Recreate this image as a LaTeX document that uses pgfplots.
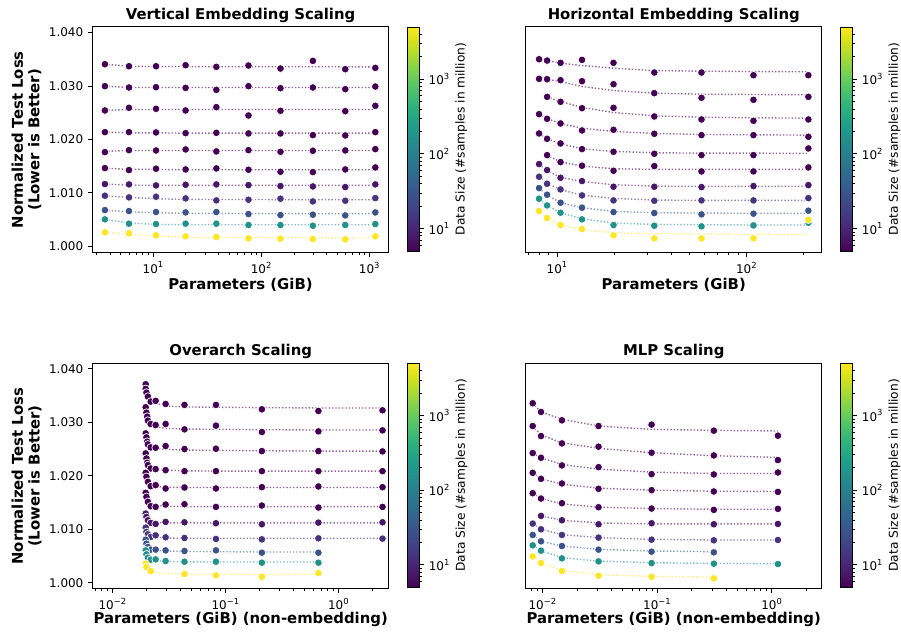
\documentclass[border=0pt]{standalone}
\usepackage{pgfplots}
\usepackage{pgfplotstable}
\usepackage{fontspec}
\setmainfont{DejaVu Sans}
\pgfplotsset{compat=1.18}

\definecolor{v0}{HTML}{440154}
\definecolor{v1}{HTML}{481769}
\definecolor{v2}{HTML}{46327E}
\definecolor{v3}{HTML}{3B528B}
\definecolor{v4}{HTML}{21918C}
\definecolor{v5}{HTML}{FDE725}
\colorlet{col1}{v0}\colorlet{col2}{v0}\colorlet{col3}{v0}\colorlet{col4}{v0}
\colorlet{col5}{v0}\colorlet{col6}{v0}\colorlet{col7}{v1}\colorlet{col8}{v2}
\colorlet{col9}{v3}\colorlet{col10}{v4}\colorlet{col11}{v5}

\newcommand{\tfont}{\fontsize{8.6}{10}\selectfont}
\newcommand{\lfont}{\bfseries\fontsize{10.7}{12}\selectfont}
\newcommand{\pw}[1]{10\textsuperscript{#1}}

% vertical embedding scaling
\pgfplotstableread{
x     r1      r2      r3      r4      r5      r6      r7      r8      r9      r10     r11
3.57  1.03409 1.02998 1.02543 1.02138 1.01764 1.01465 1.01166 1.00948 1.00680 1.00506 1.00263
5.96  1.03371 1.02973 1.02593 1.02138 1.01801 1.01428 1.01160 1.00917 1.00661 1.00425 1.00244
10.6  1.03371 1.02979 1.02574 1.02132 1.01795 1.01453 1.01141 1.00929 1.00643 1.00418 1.00207
19.9  1.03390 1.02966 1.02543 1.02119 1.01814 1.01440 1.01153 1.00898 1.00636 1.00425 1.00188
38.3  1.03359 1.02929 1.02605 1.02125 1.01777 1.01459 1.01160 1.00861 1.00643 1.00425 1.00175
75.9  1.03384 1.02998 1.02449 1.02113 1.01801 1.01434 1.01147 1.00873 1.00605 1.00400 1.00150
150   1.03328 1.02960 1.02537 1.02113 1.01770 1.01396 1.01129 1.00892 1.00587 1.00400 1.00144
299   1.03471 1.02973 nan     1.02082 1.01789 1.01390 1.01122 1.00842 1.00593 1.00387 1.00138
596   1.03315 1.02942 1.02530 1.02076 1.01795 1.01440 1.01110 1.00854 1.00580 1.00400 1.00132
1130  1.03340 1.02991 1.02630 1.02138 1.01820 1.01477 1.01160 1.00904 1.00636 1.00418 1.00188
}\vertPts
\pgfplotstableread{
x     r1      r2      r3      r4      r5      r6      r7      r8      r9      r10     r11
3.57  1.03409 1.02998 1.02543 1.02138 1.01777 1.01465 1.01166 1.00948 1.00680 1.00506 1.00263
5.96  1.03371 1.02973 1.02562 1.02125 1.01795 1.01440 1.01147 1.00917 1.00649 1.00437 1.00232
10.6  1.03365 1.02973 1.02562 1.02125 1.01795 1.01440 1.01141 1.00892 1.00630 1.00412 1.00194
19.9  1.03365 1.02973 1.02562 1.02119 1.01795 1.01434 1.01141 1.00879 1.00618 1.00406 1.00169
1130  1.03359 1.02973 1.02562 1.02119 1.01795 1.01434 1.01141 1.00873 1.00612 1.00406 1.00157
}\vertFit

% horizontal embedding scaling
\pgfplotstableread{
x     r1      r2      r3      r4      r5      r6      r7      r8      r9      r10     r11
8.01  1.03502 1.03135 nan     1.02474 1.02113 nan     1.01540 1.01303 1.01091 1.00892 1.00661
8.83  1.03477 1.03128 1.02798 1.02387 1.02013 1.01708 1.01428 1.01172 1.00967 1.00767 1.00531
10.4  1.03434 1.03110 1.02705 1.02300 1.01926 1.01577 1.01284 1.01066 1.00817 1.00630 1.00400
13.5  1.03490 1.03091 1.02586 1.02169 1.01820 1.01509 1.01222 1.00954 1.00724 1.00506 1.00325
19.8  1.03434 1.03035 1.02593 1.02181 1.01770 1.01415 1.01116 1.00861 1.00643 1.00400 1.00207
32.5  1.03253 1.02867 1.02431 1.02107 1.01733 1.01502 1.01116 1.00854 1.00624 1.00387 1.00150
57.7  1.03253 1.02780 1.02375 1.02082 1.01708 1.01403 1.01110 1.00861 1.00599 1.00375 1.00150
108.5 1.03203 1.02742 1.02350 1.02082 1.01708 1.01403 1.01129 1.00861 1.00612 1.00393 1.00150
211.5 1.03203 1.02798 1.02375 1.02051 1.01833 1.01477 1.01147 1.00904 1.00668 1.00443 1.00499
}\horPts
\pgfplotstableread{
x     r1      r2      r3      r4      r5      r6      r7      r8      r9      r10     r11
8.01  1.03502 1.03147 nan     1.02474 1.02113 nan     1.01540 1.01303 1.01091 1.00892 1.00661
8.83  1.03477 1.03128 1.02798 1.02393 1.02013 1.01702 1.01421 1.01178 1.00960 1.00761 1.00531
10.4  1.03427 1.03085 1.02711 1.02294 1.01920 1.01583 1.01291 1.01060 1.00817 1.00630 1.00400
13.5  1.03384 1.02991 1.02599 1.02213 1.01826 1.01502 1.01216 1.00960 1.00724 1.00518 1.00312
19.8  1.03334 1.02917 1.02505 1.02150 1.01777 1.01453 1.01153 1.00898 1.00655 1.00437 1.00256
32.5  1.03290 1.02867 1.02443 1.02113 1.01752 1.01440 1.01129 1.00867 1.00630 1.00412 1.00238
57.7  1.03278 1.02848 1.02418 1.02094 1.01745 1.01440 1.01122 1.00861 1.00624 1.00406 1.00232
108.5 1.03272 1.02842 1.02406 1.02088 1.01745 1.01440 1.01122 1.00861 1.00618 1.00400 1.00225
211.5 1.03266 1.02836 1.02400 1.02082 1.01739 1.01440 1.01122 1.00861 1.00618 1.00400 1.00225
}\horFit

% overarch scaling
\pgfplotstableread{
x      r1      r2      r3      r4      r5      r6      r7      r8      r9      r10     r11
0.0196 1.03714 1.03283 1.02795 1.02420 1.02057 1.01682 1.01294 1.01031 1.00806 1.00606 1.00356
0.0196 1.03627 nan     nan     nan     nan     nan     nan     nan     nan     nan     nan
0.0199 1.03558 1.03183 1.02720 1.02326 1.01982 1.01607 1.01231 1.00950 1.00731 1.00531 1.00293
0.0202 nan     1.03108 1.02639 1.02245 nan     nan     nan     nan     nan     nan     nan
0.0205 1.03483 1.03033 1.02589 1.02201 1.01888 1.01513 1.01169 1.00906 1.00669 1.00468 nan
0.0217 1.03389 1.02970 1.02532 1.02138 1.01807 1.01432 1.01119 1.00856 1.00619 1.00431 1.00218
0.024  1.03402 1.02951 1.02526 1.02126 1.01826 1.01419 1.01100 1.00887 1.00619 1.00437 nan
0.0294 1.03345 1.02970 1.02557 1.02107 1.01763 1.01463 1.01138 1.00850 1.00606 1.00406 nan
0.0432 1.03327 1.02870 1.02501 1.02088 1.01782 1.01469 1.01131 1.00837 1.00594 1.00393 1.00162
0.082  1.03327 1.02939 1.02507 1.02088 1.01763 1.01419 1.01113 1.00819 1.00606 1.00393 1.00137
0.209  1.03245 1.02820 1.02463 1.02088 1.01788 1.01444 1.01094 1.00812 1.00562 1.00375 1.00112
0.661  1.03214 1.02832 1.02463 1.02088 1.01801 1.01407 1.01125 1.00831 1.00562 1.00375 1.00181
2.44   1.03226 1.02851 1.02457 1.02088 1.01788 1.01419 1.01131 1.00825 nan     nan     nan
}\overPts
\pgfplotstableread{
x      r1      r2      r3      r4      r5      r6      r7      r8      r9      r10     r11
0.0196 1.03714 1.03264 1.02795 1.02420 1.02057 1.01682 1.01294 1.01031 1.00794 1.00594 1.00356
0.0199 1.03558 1.03108 1.02682 1.02295 1.01951 1.01575 1.01213 1.00950 1.00719 1.00518 1.00293
0.0205 1.03464 1.03014 1.02595 1.02201 1.01869 1.01500 1.01163 1.00900 1.00662 1.00462 1.00250
0.0217 1.03408 1.02951 1.02545 1.02151 1.01819 1.01457 1.01138 1.00869 1.00625 1.00431 1.00218
0.024  1.03358 1.02920 1.02514 1.02120 1.01801 1.01444 1.01125 1.00850 1.00606 1.00412 1.00193
0.0294 1.03308 1.02889 1.02495 1.02107 1.01788 1.01432 1.01119 1.00837 1.00594 1.00400 1.00174
0.0432 1.03289 1.02876 1.02482 1.02095 1.01782 1.01425 1.01119 1.00831 1.00587 1.00393 1.00162
0.082  1.03283 1.02870 1.02476 1.02088 1.01782 1.01425 1.01119 1.00831 1.00581 1.00387 1.00156
0.209  1.03276 1.02864 1.02470 1.02088 1.01782 1.01425 1.01119 1.00831 1.00575 1.00387 1.00156
0.661  1.03270 1.02857 1.02463 1.02088 1.01782 1.01425 1.01119 1.00831 1.00575 1.00387 1.00156
2.44   1.03270 1.02857 1.02463 1.02088 1.01782 1.01425 1.01119 1.00831 nan     nan     nan
}\overFit

% mlp scaling
\pgfplotstableread{
x       r2      r3      r4      r5      r6      r7      r8      r9      r10     r11
0.00819 1.03358 1.02932 1.02426 1.02057 1.01675 nan     1.01106 1.00894 1.00700 1.00493
0.00967 1.03195 1.02745 1.02338 1.01944 1.01575 1.01250 1.01000 1.00775 1.00600 1.00368
0.01472 1.03039 1.02607 1.02195 1.01857 1.01488 1.01169 1.00894 1.00687 1.00456 1.00218
0.0307  1.02932 1.02545 1.02163 1.01757 1.01413 1.01094 1.00844 1.00619 1.00400 1.00131
0.0891  1.02958 1.02432 1.02032 1.01732 1.01388 1.01113 1.00806 1.00581 1.00368 1.00112
0.311   1.02845 1.02382 1.02026 1.01707 1.01363 1.01094 1.00794 1.00569 1.00356 1.00081
1.127   1.02751 1.02295 1.02063 1.01700 1.01382 1.01100 1.00800 nan     1.00350 nan
}\mlpPts
\pgfplotstableread{
x       r2      r3      r4      r5      r6      r7      r8      r9      r10     r11
0.00819 1.03358 1.02932 1.02426 1.02057 1.01675 nan     1.01106 1.00894 1.00700 1.00493
0.00967 1.03195 1.02764 1.02338 1.01944 1.01575 1.01250 1.01000 1.00775 1.00600 1.00368
0.01472 1.03058 1.02620 1.02213 1.01844 1.01475 1.01169 1.00900 1.00687 1.00468 1.00231
0.0307  1.02932 1.02514 1.02126 1.01769 1.01413 1.01119 1.00844 1.00625 1.00406 1.00150
0.0891  1.02870 1.02432 1.02069 1.01732 1.01388 1.01100 1.00812 1.00594 1.00375 1.00118
0.311   1.02851 1.02376 1.02044 1.01713 1.01375 1.01100 1.00800 1.00581 1.00362 1.00106
1.127   1.02839 1.02345 1.02044 1.01707 1.01375 1.01100 1.00800 nan     1.00356 nan
}\mlpFit

\pgfplotsset{
  fitline/.style={no markers, draw=#1, draw opacity=0.6, line width=1pt,
    dash pattern=on 1pt off 1.4pt},
  dots/.style={only marks, mark=*, mark size=2.75pt,
    mark options={fill=#1, draw=white, line width=0.5pt}},
  panel/.style={
    scale only axis, width=213.2pt, height=162.4pt,
    ymin=0.99885, ymax=1.04105,
    axis line style={line width=0.72pt},
    tick align=outside, tick pos=left,
    major tick length=3.2pt, minor tick length=1.8pt,
    major tick style={line width=0.72pt, black},
    minor tick style={line width=0.55pt, black},
    ticklabel style={font=\tfont},
    title style={font=\lfont, at={(0.5,1)}, anchor=center, yshift=2.6pt},
    xlabel style={font=\lfont, anchor=center},
    ylabel style={font=\lfont, align=center, anchor=center,
      at={(axis description cs:-0.223,0.5)}},
  },
  cbar/.style={
    colormap/viridis,
    colorbar,
    point meta min=0.69897, point meta max=3.69897,
    colorbar style={
      at={(parent axis.north east)}, anchor=north west, xshift=5.2pt,
      width=8.4pt, height=161.3pt,
      ytick={1,2,3},
      yticklabels={\pw{1},\pw{2},\pw{3}},
      minor ytick={0.778,0.845,0.903,0.954,1.301,1.477,1.602,1.699,1.778,1.845,1.903,1.954,2.301,2.477,2.602,2.699,2.778,2.845,2.903,2.954,3.301,3.477,3.602},
      tick align=outside, ytick pos=right, yticklabel pos=right,
      major tick length=3.2pt, minor tick length=1.8pt,
      major tick style={line width=0.72pt, black},
      minor tick style={line width=0.55pt, black},
      yticklabel style={font=\tfont},
      axis line style={line width=0.6pt},
      ylabel={Data Size (\#samples in million)},
      ylabel style={font=\fontsize{8.8}{10}\selectfont, anchor=center,
        at={(axis description cs:4.6,0.5)}},
    },
  },
  lefty/.style={ytick={1,1.01,1.02,1.03,1.04},
    yticklabels={1.000,1.010,1.020,1.030,1.040},
    ylabel={Normalized Test Loss\\(Lower is Better)}},
  righty/.style={ytick=\empty},
}

\begin{document}
\begin{tikzpicture}
\useasboundingbox (0,0) rectangle (648.72pt,-456.48pt);

\begin{axis}[xmode=log, panel, lefty, cbar, at={(66.6pt,-19.44pt)}, anchor=north west,
  title={Vertical Embedding Scaling},
  xmin=2.74, xmax=1500, xtick={10,100,1000},
  xticklabels={\pw{1},\pw{2},\pw{3}},
  minor xtick={3,4,5,6,7,8,9,20,30,40,50,60,70,80,90,200,300,400,500,600,700,800,900},
  xlabel={Parameters (GiB)},
  xlabel style={at={(axis description cs:0.5,-0.1416)}}]
\pgfplotsinvokeforeach{1,...,11}{\addplot[fitline=col#1] table[x=x,y=r#1]{\vertFit};}
\pgfplotsinvokeforeach{1,...,11}{\addplot[dots=col#1] table[x=x,y=r#1]{\vertPts};}
\end{axis}

\begin{axis}[xmode=log, panel, righty, cbar, at={(378.5pt,-19.44pt)}, anchor=north west,
  title={Horizontal Embedding Scaling},
  xmin=6.81, xmax=249, xtick={10,100},
  xticklabels={\pw{1},\pw{2}},
  minor xtick={7,8,9,20,30,40,50,60,70,80,90,200},
  xlabel={Parameters (GiB)},
  xlabel style={at={(axis description cs:0.5,-0.1416)}}]
\pgfplotsinvokeforeach{1,...,11}{\addplot[fitline=col#1] table[x=x,y=r#1]{\horFit};}
\pgfplotsinvokeforeach{1,...,11}{\addplot[dots=col#1] table[x=x,y=r#1]{\horPts};}
\end{axis}

\begin{axis}[xmode=log, panel, lefty, cbar, at={(66.7pt,-261.6pt)}, anchor=north west,
  title={Overarch Scaling},
  xmin=0.00665, xmax=2.77, xtick={0.01,0.1,1},
  xticklabels={\pw{−2},\pw{−1},\pw{0}},
  minor xtick={0.007,0.008,0.009,0.02,0.03,0.04,0.05,0.06,0.07,0.08,0.09,0.2,0.3,0.4,0.5,0.6,0.7,0.8,0.9,2},
  xlabel={Parameters (GiB) (non-embedding)},
  xlabel style={at={(axis description cs:0.5,-0.137)}}]
\pgfplotsinvokeforeach{1,...,11}{\addplot[fitline=col#1] table[x=x,y=r#1]{\overFit};}
\pgfplotsinvokeforeach{1,...,11}{\addplot[dots=col#1] table[x=x,y=r#1]{\overPts};}
\end{axis}

\begin{axis}[xmode=log, panel, righty, cbar, at={(378.5pt,-261.6pt)}, anchor=north west,
  title={MLP Scaling},
  xmin=0.00711, xmax=2.72, xtick={0.01,0.1,1},
  xticklabels={\pw{−2},\pw{−1},\pw{0}},
  minor xtick={0.008,0.009,0.02,0.03,0.04,0.05,0.06,0.07,0.08,0.09,0.2,0.3,0.4,0.5,0.6,0.7,0.8,0.9,2},
  xlabel={Parameters (GiB) (non-embedding)},
  xlabel style={at={(axis description cs:0.5,-0.137)}}]
\pgfplotsinvokeforeach{2,...,11}{\addplot[fitline=col#1] table[x=x,y=r#1]{\mlpFit};}
\pgfplotsinvokeforeach{2,...,11}{\addplot[dots=col#1] table[x=x,y=r#1]{\mlpPts};}
\end{axis}
\end{tikzpicture}
\end{document}
